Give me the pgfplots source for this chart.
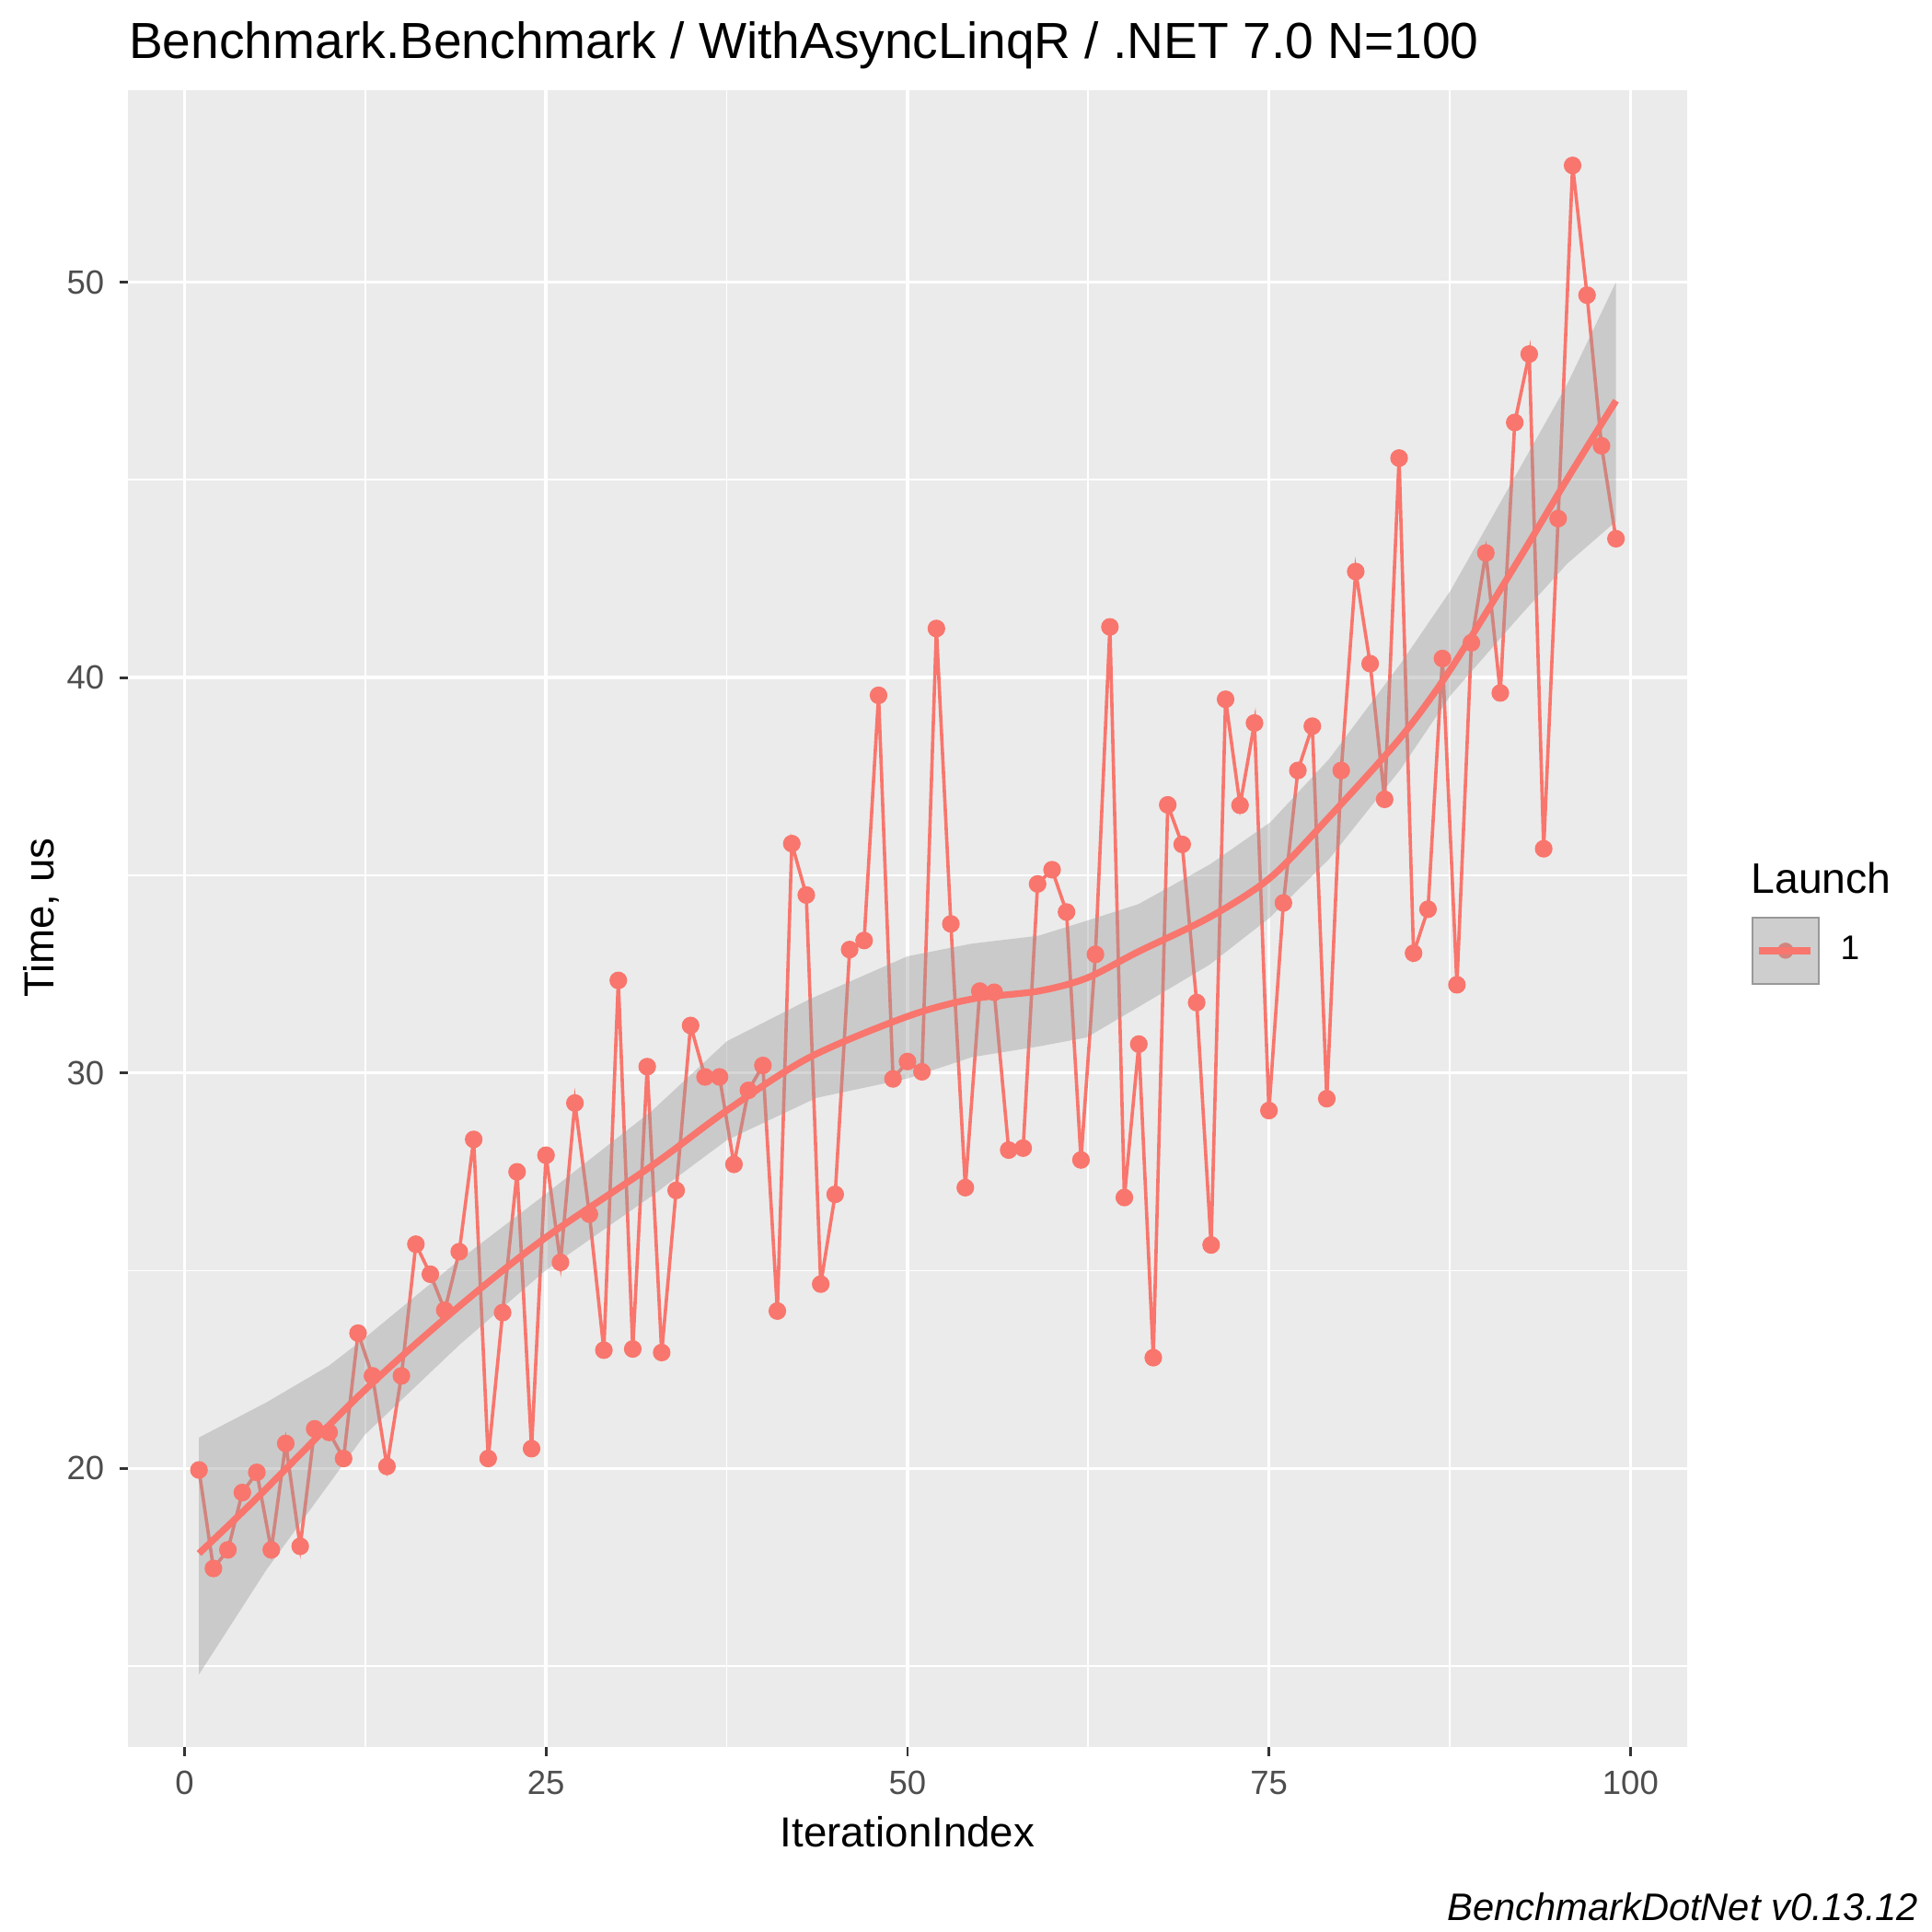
\documentclass[border=0pt]{standalone}
\usepackage{pgfplots}
\pgfplotsset{compat=1.18}
\usepackage{fontspec}
\setmainfont{Liberation Sans}
\definecolor{bgGray}{HTML}{EBEBEB}
\definecolor{ribGray}{HTML}{999999}
\definecolor{keyBg}{HTML}{F2F2F2}
\definecolor{ggRed}{HTML}{F8766D}
\definecolor{tickGray}{HTML}{333333}
\definecolor{labGray}{HTML}{4D4D4D}
\begin{document}
\begin{tikzpicture}
\useasboundingbox (0,0) rectangle (15.68cm,15.68cm);
\begin{axis}[
  at={(1.04cm,1.50cm)}, anchor=south west,
  width=12.65cm, height=13.45cm, scale only axis,
  xmin=-3.9, xmax=103.9, ymin=12.95, ymax=54.86,
  axis background/.style={fill=bgGray},
  axis line style={draw=none},
  xtick={0,25,50,75,100}, ytick={20,30,40,50},
  minor xtick={12.5,37.5,62.5,87.5}, minor ytick={15,25,35,45},
  grid=both,
  major grid style={white, line width=0.75pt},
  minor grid style={white, line width=0.38pt},
  tick align=outside, major tick length=0.07cm, minor tick length=0pt,
  tick style={tickGray, line width=0.6pt},
  xtick pos=bottom, ytick pos=left,
  /pgf/number format/assume math mode=true,
  ticklabel style={font=\fontsize{7.76}{9}\selectfont, text=labGray},
  legend style={at={(1.0415,0.4806)}, anchor=west, draw=none, fill=none,
    inner sep=0pt, outer sep=0pt, font=\fontsize{7.9}{9}\selectfont,
    nodes={inner sep=0pt}},
  legend cell align=left,
]
% data line and points
\addplot[ggRed, line width=0.77pt, mark=*, mark size=0.058cm, mark options={fill=ggRed, draw=none}, forget plot] coordinates {
(1,19.96)(2,17.47)(3,17.94)(4,19.39)(5,19.9)(6,17.94)(7,20.63)(8,18.03)(9,21.0)(10,20.91)
(11,20.25)(12,23.42)(13,22.34)(14,20.05)(15,22.34)(16,25.67)(17,24.91)(18,24.0)(19,25.48)(20,28.32)
(21,20.25)(22,23.94)(23,27.5)(24,20.5)(25,27.92)(26,25.21)(27,29.24)(28,26.43)(29,22.99)(30,32.34)
(31,23.02)(32,30.16)(33,22.93)(34,27.03)(35,31.2)(36,29.9)(37,29.9)(38,27.69)(39,29.56)(40,30.19)
(41,23.98)(42,35.8)(43,34.5)(44,24.66)(45,26.93)(46,33.12)(47,33.35)(48,39.55)(49,29.85)(50,30.29)
(51,30.03)(52,41.24)(53,33.77)(54,27.1)(55,32.07)(56,32.04)(57,28.05)(58,28.1)(59,34.78)(60,35.14)
(61,34.07)(62,27.8)(63,33.0)(64,41.28)(65,26.85)(66,30.73)(67,22.8)(68,36.78)(69,35.78)(70,31.78)
(71,25.65)(72,39.45)(73,36.77)(74,38.85)(75,29.05)(76,34.3)(77,37.65)(78,38.77)(79,29.35)(80,37.65)
(81,42.68)(82,40.35)(83,36.92)(84,45.55)(85,33.03)(86,34.14)(87,40.48)(88,32.23)(89,40.88)(90,43.15)
(91,39.61)(92,46.45)(93,48.18)(94,35.67)(95,44.02)(96,52.95)(97,49.67)(98,45.86)(99,43.51)
};
% confidence ribbon
\addplot[fill=ribGray, fill opacity=0.4, draw=none, forget plot] coordinates {
(1,20.78)(5.67,21.67)(10,22.6)(12.47,23.3)(19.0,25.27)(24.95,26.93)(32.35,29.05)(37.5,30.8)
(43.2,31.86)(50,32.95)(54.45,33.27)(59.06,33.47)(62.4,33.85)(65.98,34.27)(70.9,35.27)(75.1,36.34)
(79.16,37.94)(84.1,40.35)(87.56,42.2)(92.34,45.29)(95.63,47.42)(99,50.0)
(99,43.95)(95.63,42.88)(92.34,41.55)(87.56,39.55)(84.1,37.68)(79.16,35.41)(75.1,33.94)(70.9,32.74)
(65.98,31.67)(62.4,30.9)(59.06,30.67)(54.45,30.4)(50,29.86)(43.7,29.37)(37.5,28.3)(32.35,26.9)
(24.95,25.0)(19.0,23.12)(12.47,20.85)(5.67,17.44)(1,14.79)
} -- cycle;
% smooth fit
\addplot[ggRed, line width=1.55pt, smooth, forget plot] coordinates {
(1,17.85)(5,19.25)(12.47,21.98)(19,24.1)(24.95,25.83)(32.35,27.66)(37.5,29.05)(43.2,30.39)
(50,31.43)(54.45,31.87)(59.06,32.07)(62.4,32.4)(65.98,33.07)(70.9,33.94)(75.1,34.94)(79.16,36.47)
(84.1,38.48)(87.56,40.21)(92.34,43.02)(95.63,45.02)(99,47.0)
};
\addlegendimage{legend image code/.code={
  \fill[keyBg] (0cm,-0.269cm) rectangle (0.538cm,0.269cm);
  \fill[ggRed] (0.269cm,0cm) circle (0.058cm);
  \fill[ribGray, fill opacity=0.4] (0cm,-0.269cm) rectangle (0.538cm,0.269cm);
  \draw[ggRed, line width=1.55pt] (0.055cm,0cm) -- (0.475cm,0cm);
}}
\addlegendentry{\hspace{0.17cm}1}
\end{axis}
\node[inner sep=0pt, anchor=base west, font=\fontsize{11.72}{13}\selectfont] at (1.04cm,15.207cm) {Benchmark.Benchmark / WithAsyncLinqR / .NET 7.0 N=100};
\node[anchor=base, font=\fontsize{9.7}{11}\selectfont] at (7.365cm,0.69cm) {IterationIndex};
\node[anchor=base, rotate=90, font=\fontsize{9.7}{11}\selectfont] at (0.44cm,8.23cm) {Time, us};
\node[inner sep=0pt, anchor=base west, font=\fontsize{9.85}{11}\selectfont] at (14.205cm,8.427cm) {Launch};
\node[inner sep=0pt, anchor=base east, font=\fontsize{8.85}{10}\selectfont\itshape] at (15.575cm,0.09cm) {BenchmarkDotNet v0.13.12};
\end{tikzpicture}
\end{document}
